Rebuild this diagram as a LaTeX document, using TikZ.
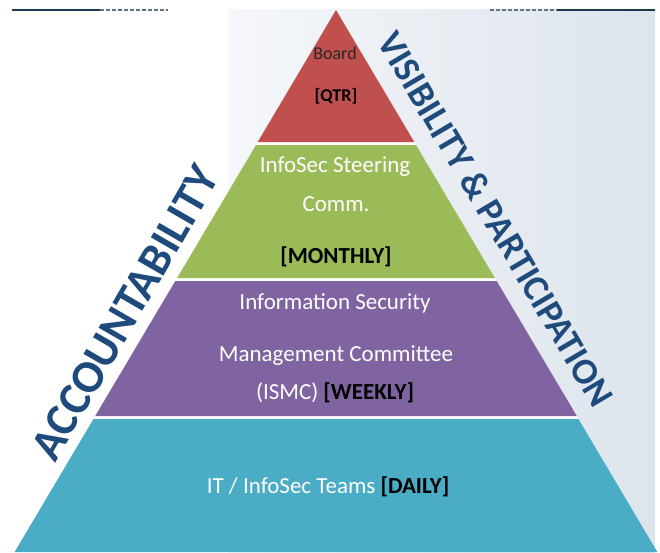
\documentclass[tikz,border=0pt]{standalone}
\usepackage{fontspec}
\setmainfont{Carlito}
\usetikzlibrary{calc}
\definecolor{tierred}{HTML}{C0504D}
\definecolor{tiergreen}{HTML}{9BBB59}
\definecolor{tierpurple}{HTML}{8064A2}
\definecolor{tierteal}{HTML}{4BACC6}
\definecolor{sidetext}{HTML}{1F4A7C}
\definecolor{rule}{HTML}{1B3A4B}
\definecolor{bgleft}{HTML}{F5F7FA}
\definecolor{bgright}{HTML}{DDE4EC}

\begin{document}
\begin{tikzpicture}[
          x=1pt, y=-1pt,
          lvl/.style  = {text=white, font=\fontsize{23}{26}\selectfont, inner sep=0pt},
          tag/.style  = {text=black, font=\fontsize{23}{26}\selectfont\bfseries, inner sep=0pt},
          small/.style= {text=black!85, font=\fontsize{18}{20}\selectfont, inner sep=0pt},
          side/.style = {text=sidetext, font=\bfseries, inner sep=0pt},
        ]
        \useasboundingbox (0,0) rectangle (660,552);
        % backdrop on the right
        \shade[left color=bgleft, right color=bgright] (228,9) rectangle (655,552);
        % rules at the top
        \draw[rule, line width=2pt] (12,10) -- (100,10);
        \draw[rule!70, line width=2pt, dash pattern=on 4pt off 2pt] (100,10) -- (168,10);
        \draw[rule!70, line width=2pt, dash pattern=on 4pt off 2pt] (490,10) -- (557,10);
        \draw[rule, line width=2pt] (557,10) -- (655,10);

        % pyramid
        \fill[white] (336,10) -- (657.4,552) -- (14.6,552) -- cycle;
        \fill[tierred]    (336,10) -- (414.3,142) -- (257.7,142) -- cycle;
        \fill[tiergreen]  (256,145) -- (416,145) -- (494.9,278) -- (177.1,278) -- cycle;
        \fill[tierpurple] (175.3,281) -- (496.7,281) -- (576.8,416) -- (95.2,416) -- cycle;
        \fill[tierteal]   (93.5,419) -- (578.5,419) -- (657.4,552) -- (14.6,552) -- cycle;

        \node[small] (board) at (335,53) {Board};
        \node[small, font=\fontsize{18}{20}\selectfont\bfseries, text=black] (qtr) at (336,96) {[QTR]};

        \node[lvl] (steer)   at (335,167) {InfoSec Steering};
        \node[lvl] (comm)    at (336,204) {Comm.};
        \node[tag] (monthly) at (336,257) {[MONTHLY]};

        \node[lvl] (infosec) at (335,303) {Information Security};
        \node[lvl] (mgmt)    at (336,356) {Management Committee};
        \node[lvl] (ismc)    at (335,393) {(ISMC) \textcolor{black}{\bfseries[WEEKLY]}};

        \node[lvl] (teams)   at (328,487) {IT / InfoSec Teams \textcolor{black}{\bfseries[DAILY]}};

        % side captions
        \node[side, font=\fontsize{46}{48}\selectfont\bfseries, rotate=60] (acc) at (125,313) {ACCOUNTABILITY};
        \node[side, font=\fontsize{37}{40}\selectfont\bfseries, rotate=-59.4] (vis) at (496,219) {VISIBILITY \& PARTICIPATION};
      \end{tikzpicture}
\end{document}
